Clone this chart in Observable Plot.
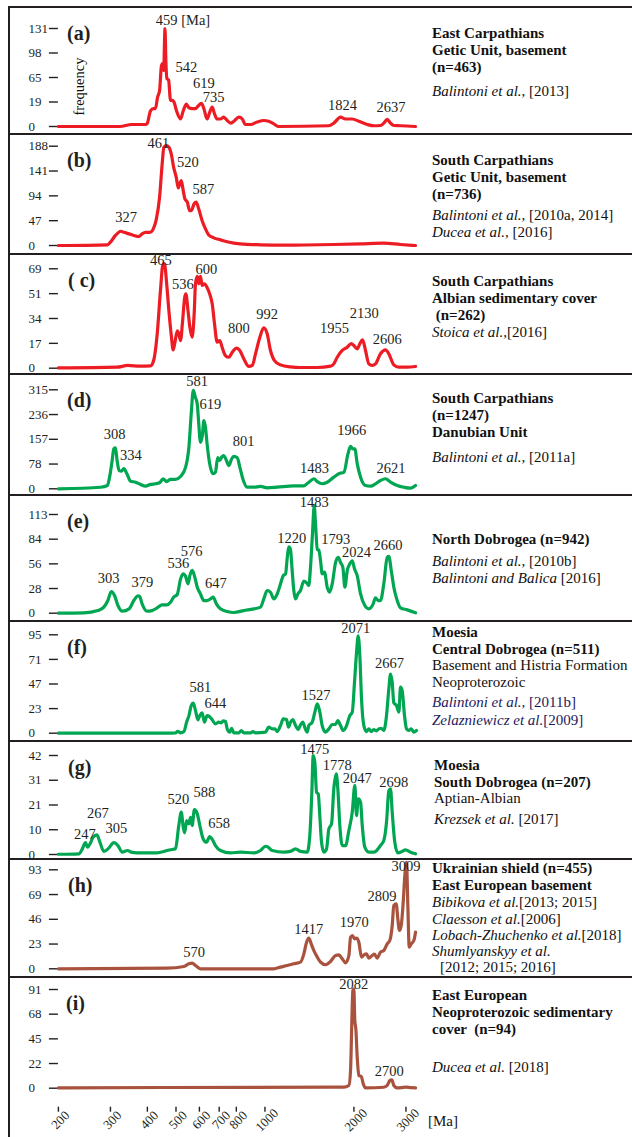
<!DOCTYPE html>
<html><head><meta charset="utf-8">
<script src="https://cdn.jsdelivr.net/npm/d3@7"></script>
<script src="https://cdn.jsdelivr.net/npm/@observablehq/plot@0.6"></script>
<style>
body{margin:0;background:#fff;}
#root{position:relative;width:632px;height:1137px;overflow:hidden;font-family:"Liberation Serif","Times New Roman",serif;color:#231f20;background:#fff;}
.panel{position:absolute;left:8px;width:624px;box-sizing:border-box;border-top:2px solid #231f20;border-left:2px solid #231f20;}
.panel svg{position:absolute;left:0;top:0;overflow:visible;background:transparent;}
.txt{position:absolute;font-size:15px;line-height:17px;white-space:pre;color:#111;}
.let{position:absolute;font-size:20px;font-weight:bold;line-height:20px;white-space:pre;color:#231f20;}
</style></head><body><div id="root"></div>
<script>
// ---------------- DATA ----------------
const xTicks = [200, 300, 400, 500, 600, 700, 800, 1000, 2000, 3000];

// (a) East Carpathians, Getic Unit, basement
const ageA = [200,323,354,394,399,410,419,426,433,440,446,450,454,459,462,466,472,479,485,492,502,518,529,542,553,568,582,593,610,621,637,650,663,675,689,707,725,745,765,785,816,838,859,894,941,991,1030,1071,1114,1645,1710,1802,1874,1974,2078,2218,2335,2460,2524,2592,2660,2729,2875,3232];
const freqA = [0,0,2.7,2.7,3.6,21,24,24,39,48,80,84,75,131,88,64,62,35,35,33,21,10,21,30,25,24,24,27,31,24,10,19,26,17,10,10,12.5,8,4.5,7,12.5,10,2.7,2.7,6,8,7,3.5,0,1,4.5,12.5,10,10,7,2.7,1,1.3,4.5,9.4,4.5,1.3,1,0];
const tickA = ["0","19","65","98","131"];
const labA = ["459 [Ma]","542","619","735","1824","2637"];
const labAgeA = [528,542,621,670,1828,2668];
const labFreqA = [141.7,79.3,57,38.5,28,25];

// (b) South Carpathians, Getic Unit, basement
const ageB = [200,293,300,312,325,333,347,360,375,384,394,408,419,429,440,449,455,464,473,482,491,501,509,515,521,529,536,546,556,563,576,585,597,613,629,645,671,707,745,785,848,966,1159,1710,2106,2524,2875,3232];
const freqB = [0,1.3,6.3,19,27,25,22,19,17,22,25,25,31.5,50,91.5,155,186,189,186,173,148,129,109,117,123,104,88,82,66,66,79,82,69,47,31.5,20,14.5,10.7,7,4.4,2.5,1.3,0.6,1.9,3.2,4.4,1.9,0];
const tickB = ["0","47","94","141","188"];
const labB = ["461","520","587","327"];
const labAgeB = [436,548,619,339];
const labFreqB = [193.7,157.7,105.4,52.4];

// (c) South Carpathians, Albian sedimentary cover
const ageC = [200,316,343,379,410,420,432,443,452,457,465,473,482,489,495,505,511,518,526,535,540,549,557,567,576,582,590,597,605,613,624,637,650,663,675,689,703,716,735,755,775,801,822,848,882,906,929,961,991,1017,1044,1077,1129,1220,1319,1503,1667,1710,1756,1826,1899,1959,1999,2052,2094,2139,2189,2246,2306,2366,2460,2558,2625,2729,2838,3030,3232];
const freqC = [0.2,0.7,1.9,1.4,1.6,5.3,24,54,72.5,72.5,58.6,40,22.7,12.7,17,26,24,19.2,32,49,51.6,40,28.5,21.5,37.7,58.6,63.7,58.6,63.7,57.4,58.6,56,51.6,44.7,30.8,18,19.2,14.6,8.8,7.6,11,14,12.3,6.5,1.2,1.9,10,21.5,28,24,12.3,5.3,2.3,0.9,0.5,0.5,1.4,3,7.6,12.3,14.6,17,15.7,13.4,17,19.7,12.3,3,1.9,3,10,12.7,10,2.3,0.7,0.7,1.2];
const tickC = ["0","17","34","51","69"];
const labC = ["465","536","600","800","992","1955","2130","2606"];
const labAgeC = [444,527,634,816,1017,1720,2167,2592];
const labFreqC = [74.7,58.1,68.3,28,37.7,28,38.2,19.7];

// (d) South Carpathians, Danubian Unit
const ageD = [200,278,293,298,304,308,312,316,321,327,333,341,351,365,379,394,410,426,440,452,465,479,498,518,539,553,563,572,581,590,597,605,614,621,629,637,650,668,680,692,703,714,725,737,755,771,785,806,822,845,870,917,966,1017,1100,1252,1354,1407,1464,1503,1562,1624,1710,1779,1850,1909,1948,1983,2014,2052,2106,2189,2276,2366,2460,2558,2660,2802,2951,3108,3232];
const freqD = [0,5,10.6,37,90,127,130,90,58,56,64,48,24,21,14,8.5,14,16,19,32,23,30,30,39,69,133,239,313,292,270,207,148,170,217,196,143,80,48,53,99,90,101,106,95,74,95,103,99,69,26.5,5.3,5.3,7.4,3.2,5.3,9.5,9.5,21,32,23,16,21,37,48,53,111,135,127,127,80,37,10.6,8.5,16,26.5,32,21,10.6,5,2,10.6];
const tickD = ["0","78","157","236","315"];
const labD = ["581","619","308","334","801","1483","1966","2621"];
const labAgeD = [590,654,310,352,846,1471,1966,2668];
const labFreqD = [342,268,172.8,106,150.5,63.6,185.5,63.6];

// (e) North Dobrogea
const ageE = [200,244,272,285,294,302,310,318,329,347,360,372,377,384,399,415,432,449,466,479,491,505,518,529,539,549,557,567,577,590,605,621,637,654,668,685,707,745,785,848,917,966,991,1017,1044,1071,1100,1129,1153,1174,1190,1204,1220,1236,1252,1269,1292,1319,1354,1390,1407,1426,1448,1468,1483,1503,1522,1542,1562,1590,1624,1654,1689,1733,1770,1802,1834,1864,1899,1937,1974,2009,2052,2106,2177,2246,2324,2366,2416,2460,2524,2592,2625,2675,2729,2802,2875,3030,3232];
const freqE = [0,0.4,3,6.9,14.5,24.8,20,8.8,2.3,5,14.5,20,19,10.7,2.3,3,6.1,9.5,9.5,12.6,18.3,21.4,39,45,42,33.6,43,49,43,29.8,22,14.5,14.5,16.4,18.3,10.7,5,1.9,0.8,3,5,6.9,16.4,26,24,16.4,22,33.6,43,45,64,76,73,49,26,16.4,22,26,36.7,34,31.7,52.7,91,123,102,73,72,60,45,47,29.8,24,33.6,58,64,58,52.7,29.8,49,56.5,60,50.8,43,22,8.8,5,10.7,17.6,14.5,14.5,33.6,64,65,49,29.8,14.5,6.1,3.8,0.4];
const tickE = ["0","28","56","84","113"];
const labE = ["1483","1220","1793","2024","2660","576","536","647","303","379"];
const labAgeE = [1468,1233,1737,2041,2608,565,509,682,296,385];
const labFreqE = [127,85.2,84,69.9,77.5,71,57.3,33.7,39.4,35.5];

// (f) Moesia, Central Dobrogea
const ageF = [200,466,498,507,518,532,543,553,563,572,582,593,602,613,624,637,650,663,680,698,711,722,735,745,761,771,785,816,832,848,894,910,929,1004,1030,1058,1080,1100,1129,1153,1183,1201,1220,1242,1269,1296,1319,1343,1369,1390,1407,1445,1475,1503,1530,1562,1603,1645,1689,1733,1764,1802,1840,1889,1937,1974,2009,2041,2068,2094,2122,2161,2206,2246,2289,2335,2384,2428,2474,2524,2578,2625,2660,2695,2729,2787,2838,2875,2913,2966,3013,3068,3125,3190,3257];
const freqF = [0,0,0.3,1.9,0.3,1.6,10.6,17,26.7,29,21.9,12.9,17,19.6,10.6,17,16,12.9,9,10.6,10,11.9,11.3,4.2,1,4.8,0.3,0.3,2.6,0.3,0.3,1.6,0.3,1,5.8,4.2,4.2,1.6,7.4,13.8,13.2,5.8,10.6,13.2,7.4,3.5,8,10.6,4.2,1,7.4,10.6,20.3,28.3,21.9,7.4,1,4.2,8.4,8.4,12.2,7.4,2.6,7.4,17,20.3,49,78,94,75,33,7.4,1.6,4.2,1.6,3.5,2.3,4.2,4.8,2.6,17,42.8,57,49,29.3,26.7,20.3,44.4,41.2,17,4.2,2.6,4.2,1,2.6];
const tickF = ["0","23","47","71","95"];
const labF = ["2071","2667","1527","581","644"];
const labAgeF = [2030,2641,1487,605,680];
const labFreqF = [101.4,67,36.4,44.4,28.4];

// (g) Moesia, South Dobrogea
const ageG = [200,235,241,247,251,257,262,270,276,285,296,308,318,329,343,353,370,399,432,455,466,479,498,511,521,529,535,543,553,560,567,577,590,602,618,634,650,663,680,707,765,827,917,966,1004,1025,1058,1159,1220,1269,1319,1390,1418,1441,1456,1475,1495,1515,1533,1554,1582,1616,1645,1680,1710,1743,1764,1792,1826,1874,1923,1974,2014,2041,2068,2106,2134,2177,2246,2335,2460,2524,2578,2625,2660,2695,2750,2815,2913,2990,3108,3232];
const freqG = [0.1,0.3,2.4,5,3.1,5,7.4,8.3,5.5,1.3,2.7,5,3.8,1,1.7,1,0.7,0.7,0.7,1.3,1.7,2,2.4,12.3,18,11.6,9.2,14.4,13,15.8,12.3,19,17.3,12.3,6.6,5.2,7.6,6.4,3.8,1.7,0.7,1,0.7,1.7,3.5,3.1,1.7,1,1.3,2.4,1.3,1,8,26.4,42,39,26.4,25.7,16.5,5.2,1,2.4,10.9,13,27.9,34.2,27.9,12.3,3.8,3.8,10.2,18,29.3,16.5,23.6,22.2,12.3,3.1,1,1,3.8,5.9,13.7,27,27.9,18,5.2,0.7,1.3,2,1,0.3];
const tickG = ["0","10","21","31","42"];
const labG = ["1475","1778","2047","2698","520","588","658","247","267","305"];
const labAgeG = [1475,1756,2052,2729,509,624,700,246,272,314];
const labFreqG = [44.5,38,32.1,30.4,23.3,26.2,13,8.4,17.3,11.2];

// (h) Ukrainian shield, East European basement
const ageH = [200,466,532,553,567,582,605,785,1071,1129,1190,1252,1319,1354,1383,1407,1434,1464,1503,1542,1603,1667,1733,1779,1826,1874,1923,1948,1978,2009,2041,2078,2122,2161,2206,2246,2306,2347,2397,2460,2524,2592,2645,2695,2729,2780,2815,2852,2891,2936,2974,3013,3044,3077,3125,3190,3232];
const freqH = [0,0.6,2.2,4.7,5.3,3.1,0,0,0,1.6,3.1,4.7,6.3,14,25,28.8,23.5,17,11,6.3,3.8,6.9,12.5,13,9.4,5.6,12.5,29.7,31.3,28.2,28.8,25,11,13,14,10,12.5,13.8,10,15.7,17.2,23.5,26.6,40.7,59.5,61,47,36,40.7,62.6,87.7,100,59.5,20.4,23.5,26.6,34.4];
const tickH = ["0","23","46","69","93"];
const labH = ["3009","2809","1970","1417","570"];
const labAgeH = [3000,2491,2004,1407,576];
const labFreqH = [96.4,68,43.8,36.9,15.6];

// (i) East European Neoproterozoic sedimentary cover
const ageI = [200,1710,1850,1923,1948,1968,1983,1999,2014,2030,2052,2078,2118,2151,2189,2524,2592,2645,2688,2729,2802,2990,3108,3232];
const freqI = [0.3,0.9,0.9,2.5,16.3,62,90,91.6,62,54.7,28.6,11.7,10.8,4,0.3,0.9,2.5,7,7.7,2.5,0.3,0.9,0.6,0.3];
const tickI = ["0","22","45","68","91"];
const labI = ["2082","2700"];
const labAgeI = [1999,2636];
const labFreqI = [95.6,15.7];

// ---------------- LAYOUT ----------------
const RED = "#ed1c24", GREEN = "#00a651", BROWN = "#a9533f";
const INK = "#231f20";
const panels = [
  {letter:"(a)", age:ageA, freq:freqA, ticks:tickA, lab:labA, labAge:labAgeA, labFreq:labFreqA, color:RED,   top:7,   next:134, yMax:28,    yZero:126,    lx:67},
  {letter:"(b)", age:ageB, freq:freqB, ticks:tickB, lab:labB, labAge:labAgeB, labFreq:labFreqB, color:RED,   top:134, next:254, yMax:145.7, yZero:245,    lx:67},
  {letter:"( c)",age:ageC, freq:freqC, ticks:tickC, lab:labC, labAge:labAgeC, labFreq:labFreqC, color:RED,   top:254, next:374, yMax:268.3, yZero:367.7,  lx:68},
  {letter:"(d)", age:ageD, freq:freqD, ticks:tickD, lab:labD, labAge:labAgeD, labFreq:labFreqD, color:GREEN, top:374, next:495, yMax:389.3, yZero:488.3,  lx:67},
  {letter:"(e)", age:ageE, freq:freqE, ticks:tickE, lab:labE, labAge:labAgeE, labFreq:labFreqE, color:GREEN, top:495, next:621, yMax:514,   yZero:612.7,  lx:67},
  {letter:"(f)", age:ageF, freq:freqF, ticks:tickF, lab:labF, labAge:labAgeF, labFreq:labFreqF, color:GREEN, top:621, next:741, yMax:634.3, yZero:732.7,  lx:67},
  {letter:"(g)", age:ageG, freq:freqG, ticks:tickG, lab:labG, labAge:labAgeG, labFreq:labFreqG, color:GREEN, top:741, next:859, yMax:755,   yZero:854,    lx:68},
  {letter:"(h)", age:ageH, freq:freqH, ticks:tickH, lab:labH, labAge:labAgeH, labFreq:labFreqH, color:BROWN, top:859, next:977, yMax:869.3, yZero:968.3,  lx:68},
  {letter:"(i)", age:ageI, freq:freqI, ticks:tickI, lab:labI, labAge:labAgeI, labFreq:labFreqI, color:BROWN, top:977, next:null,yMax:989,   yZero:1087.7, lx:66, axis:true}
];

const notes = [
  [[34,[["East Carpathians","b"]]],[51,[["Getic Unit, basement","b"]]],[68,[["(n=463)","b"]]],[92,[["Balintoni et al.,","i"],[" [2013]","r"]]]],
  [[161,[["South Carpathians","b"]]],[178,[["Getic Unit, basement","b"]]],[195,[["(n=736)","b"]]],[216,[["Balintoni et al.,","i"],[" [2010a, 2014]","r"]]],[233,[["Ducea et al.,","i"],[" [2016]","r"]]]],
  [[282,[["South Carpathians","b"]]],[299,[["Albian sedimentary cover","b"]]],[316,[[" (n=262)","b"]]],[333,[["Stoica et al.,","i"],["[2016]","r"]]]],
  [[399,[["South Carpathians","b"]]],[416,[["(n=1247)","b"]]],[433,[["Danubian Unit","b"]]],[458,[["Balintoni et al.,","i"],[" [2011a]","r"]]]],
  [[540,[["North Dobrogea (n=942)","b"]]],[562,[["Balintoni et al.,","i"],[" [2010b]","r"]]],[579,[["Balintoni and Balica","i"],[" [2016]","r"]]]],
  [[633,[["Moesia","b"]]],[650,[["Central Dobrogea (n=511)","b"]]],[666,[["Basement and Histria Formation","r"]]],[683,[["Neoproterozoic","r"]]],[703,[["Balintoni et al.,","in"],[" [2011b]","rn"]]],[721,[["Zelazniewicz et al.","in"],["[2009]","rn"]]]],
  [[766,[["Moesia","b"]]],[783,[["South Dobrogea (n=207)","b"]]],[799,[["Aptian-Albian","r"]]],[820,[["Krezsek et al.","i"],[" [2017]","r"]]]],
  [[869,[["Ukrainian shield (n=455)","b"]]],[886,[["East European basement","b"]]],[903,[["Bibikova et al.","i"],["[2013; 2015]","r"]]],[920,[["Claesson et al.","i"],["[2006]","r"]]],[936,[["Lobach-Zhuchenko et al.","i"],["[2018]","r"]]],[952,[["Shumlyanskyy et al.","i"]]],[968,[["[2012; 2015; 2016]","r"]]]],
  [[996,[["East European","b"]]],[1013,[["Neoproterozoic sedimentary","b"]]],[1030,[["cover  (n=94)","b"]]],[1068,[["Ducea et al.","i"],[" [2018]","r"]]]]
];

// ---------------- RENDER ----------------
const root = document.getElementById("root");
const W = 622;               // svg width (panel content)
const xLeftPage = 57.9;      // page x of 200 Ma
const xRightPage = 417.7;    // page x of 3300 Ma
const FONT = '"Liberation Serif","Times New Roman",serif';

panels.forEach((p, k) => {
  const div = document.createElement("div");
  div.className = "panel";
  div.style.top = (p.top - 1) + "px";
  div.style.height = (p.next == null ? 1137 - p.top + 1 : p.next - p.top) + "px";
  const H = (p.next == null ? 1137 - p.top : p.next - p.top - 2);
  const contentTop = p.top + 1;
  const mt = p.yMax - contentTop;
  const mb = H - (p.yZero - contentTop);
  const maxV = +p.ticks[p.ticks.length - 1];
  const tickPos = p.ticks.map((_, i) => i * maxV / (p.ticks.length - 1));
  const data = p.age.map((a, i) => ({age: a, f: p.freq[i]}));
  const labels = p.lab.map((t, i) => ({t, age: p.labAge[i], f: p.labFreq[i]}));
  const marks = [
    Plot.axisY(tickPos, {tickSize: 9, tickPadding: 21, textAnchor: "start", label: null, stroke: INK, strokeWidth: 1.4, fill: INK, fontSize: 13,
      tickFormat: d => p.ticks[tickPos.indexOf(d)]}),
    Plot.line(data, {x: "age", y: "f", stroke: p.color, strokeWidth: 3.2, curve: "monotone-x", strokeLinejoin: "round", strokeLinecap: "round"}),
    Plot.text(labels, {x: "age", y: "f", text: "t", fontSize: 14.5, fill: INK, textAnchor: "middle", lineAnchor: "middle"})
  ];
  if (p.axis) {
    marks.push(Plot.axisX(xTicks, {tickSize: 5, dy: 19, label: null, stroke: INK, strokeWidth: 1.4, tickFormat: () => ""}));
    marks.push(Plot.text(xTicks, {x: d => d, text: d => String(d), frameAnchor: "bottom", rotate: -45, textAnchor: "middle", lineAnchor: "middle", dy: 32, dx: 2, fontSize: 13, fill: INK}));
  }
  const chart = Plot.plot({
    width: W, height: H,
    marginLeft: xLeftPage - 10, marginRight: W - (xRightPage - 10),
    marginTop: mt, marginBottom: mb,
    x: {type: "log", domain: [200, 3300], label: null, ...(p.axis ? {} : {axis: null})},
    y: {domain: [0, maxV], label: null},
    style: {fontFamily: FONT, background: "transparent", overflow: "visible", color: INK},
    marks
  });
  div.appendChild(chart);
  root.appendChild(div);

  // panel letter
  const L = document.createElement("div");
  L.className = "let";
  L.textContent = p.letter;
  L.style.left = p.lx + "px";
  L.style.top = (p.top + 16) + "px";
  root.appendChild(L);

  // notes
  notes[k].forEach(([yc, parts]) => {
    const t = document.createElement("div");
    t.className = "txt";
    t.style.left = (k === 6 ? 434 : 432) + (parts[0][0].startsWith("[2012") ? 8 : 0) + "px";
    t.style.top = (yc - 9) + "px";
    parts.forEach(([s, st]) => {
      const sp = document.createElement("span");
      sp.textContent = s;
      if (st[0] === "b") sp.style.fontWeight = "bold";
      if (st[0] === "i") sp.style.fontStyle = "italic";
      if (st[1] === "n") sp.style.color = "#1c1a5e";
      t.appendChild(sp);
    });
    root.appendChild(t);
  });
});

// "frequency" vertical label in panel (a)
const fq = document.createElement("div");
fq.className = "txt";
fq.textContent = "frequency";
fq.style.fontSize = "14.5px";
fq.style.left = (79 - 40) + "px";
fq.style.top = (87 - 9) + "px";
fq.style.width = "80px";
fq.style.textAlign = "center";
fq.style.transform = "rotate(-90deg)";
root.appendChild(fq);

// [Ma] unit at the bottom axis
const ma = document.createElement("div");
ma.className = "txt";
ma.textContent = "[Ma]";
ma.style.left = "428px";
ma.style.top = (1122 - 9) + "px";
root.appendChild(ma);
</script></body></html>
